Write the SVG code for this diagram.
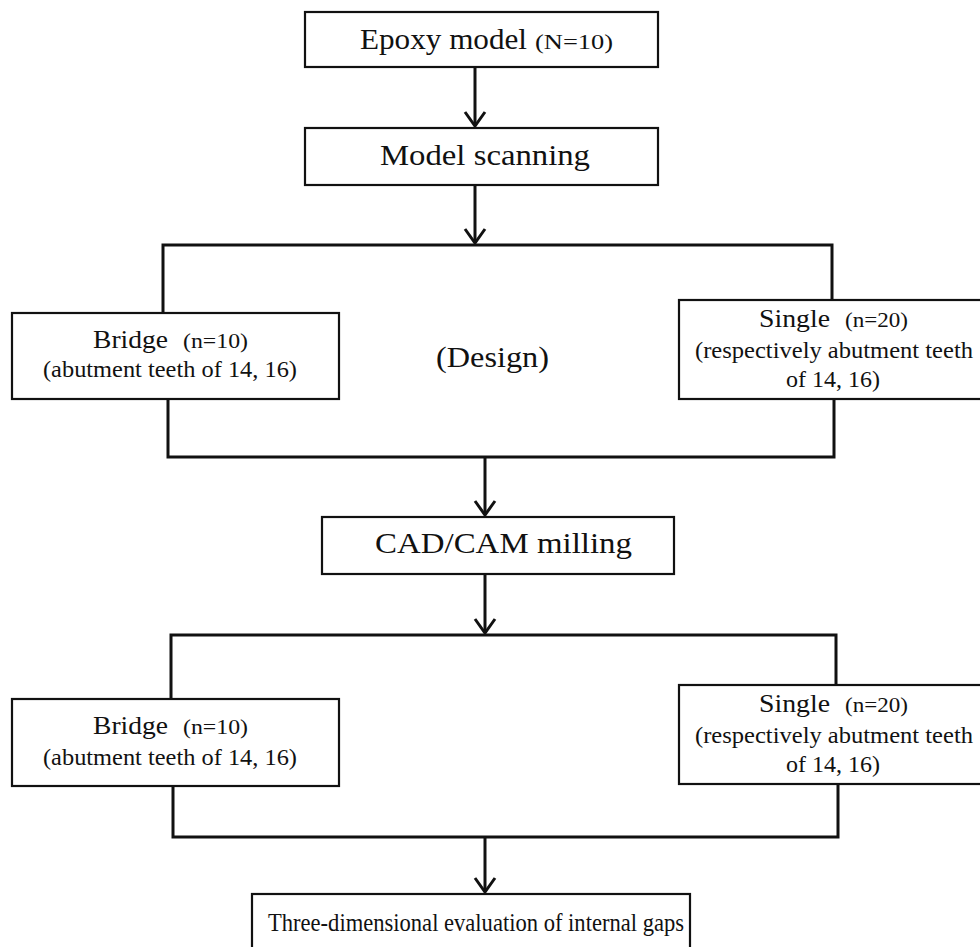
<svg xmlns="http://www.w3.org/2000/svg" width="980" height="947" viewBox="0 0 980 947" font-family="'Liberation Serif', 'Times New Roman', Times, serif">
<style>
.box{fill:#fff;stroke:#111;stroke-width:2.2}
.con{fill:none;stroke:#111;stroke-width:3}
.arr{fill:none;stroke:#111;stroke-width:3;marker-end:url(#chev)}
text{font-family:'Liberation Serif','Times New Roman',Times,serif;fill:#111}
.big{font-size:29px}
.mid{font-size:26px}
.sm{font-size:21px}
.sub{font-size:23px}
</style>
<defs>
<marker id="chev" markerUnits="userSpaceOnUse" viewBox="0 0 18 24" refX="16" refY="12" markerWidth="18" markerHeight="24" orient="auto">
<path d="M2,2 L16,12 L2,22" fill="none" stroke="#111" stroke-width="3"/>
</marker>
</defs>
<rect width="980" height="947" fill="#fff"/>
<g id="connectors">
<line class="arr" x1="475" y1="67" x2="475" y2="126"/>
<line class="arr" x1="475" y1="185" x2="475" y2="243"/>
<polyline class="con" points="163,313 163,245 832,245 832,300"/>
<polyline class="con" points="168,399 168,457 834,457 834,399"/>
<line class="arr" x1="485" y1="457" x2="485" y2="515"/>
<line class="arr" x1="485" y1="574" x2="485" y2="633"/>
<polyline class="con" points="171,699 171,635 836,635 836,685"/>
<polyline class="con" points="173,786 173,837 838,837 838,784"/>
<line class="arr" x1="485" y1="837" x2="485" y2="892"/>
</g>
<g id="epoxy">
<rect class="box" x="305" y="12" width="353" height="55"/>
<text class="big" x="360" y="49" textLength="167" lengthAdjust="spacingAndGlyphs">Epoxy model</text>
<text x="535" y="49" font-size="20" textLength="78" lengthAdjust="spacingAndGlyphs">(N=10)</text>
</g>
<g id="scanning">
<rect class="box" x="305" y="128" width="353" height="57"/>
<text class="big" x="380" y="165" textLength="210" lengthAdjust="spacingAndGlyphs">Model scanning</text>
</g>
<g id="bridge1">
<rect class="box" x="12" y="313" width="327" height="86"/>
<text class="mid" x="93" y="348" textLength="75" lengthAdjust="spacingAndGlyphs">Bridge</text>
<text class="sm" x="183" y="348" textLength="65" lengthAdjust="spacingAndGlyphs">(n=10)</text>
<text class="sub" x="43" y="377" textLength="254" lengthAdjust="spacingAndGlyphs">(abutment teeth of 14, 16)</text>
</g>
<g id="design">
<text class="big" x="436" y="367" textLength="113" lengthAdjust="spacingAndGlyphs">(Design)</text>
</g>
<g id="single1">
<rect class="box" x="679" y="300" width="312" height="99"/>
<text class="mid" x="759" y="327" textLength="71" lengthAdjust="spacingAndGlyphs">Single</text>
<text class="sm" x="845" y="327" textLength="63" lengthAdjust="spacingAndGlyphs">(n=20)</text>
<text class="sub" x="695" y="358" textLength="278" lengthAdjust="spacingAndGlyphs">(respectively abutment teeth</text>
<text class="sub" x="786" y="387" textLength="94" lengthAdjust="spacingAndGlyphs">of 14, 16)</text>
</g>
<g id="cadcam">
<rect class="box" x="322" y="517" width="352" height="57"/>
<text class="big" x="375" y="553" textLength="257" lengthAdjust="spacingAndGlyphs">CAD/CAM milling</text>
</g>
<g id="bridge2">
<rect class="box" x="12" y="699" width="327" height="87"/>
<text class="mid" x="93" y="734" textLength="75" lengthAdjust="spacingAndGlyphs">Bridge</text>
<text class="sm" x="183" y="734" textLength="65" lengthAdjust="spacingAndGlyphs">(n=10)</text>
<text class="sub" x="43" y="765" textLength="254" lengthAdjust="spacingAndGlyphs">(abutment teeth of 14, 16)</text>
</g>
<g id="single2">
<rect class="box" x="679" y="685" width="312" height="99"/>
<text class="mid" x="759" y="712" textLength="71" lengthAdjust="spacingAndGlyphs">Single</text>
<text class="sm" x="845" y="712" textLength="63" lengthAdjust="spacingAndGlyphs">(n=20)</text>
<text class="sub" x="695" y="743" textLength="278" lengthAdjust="spacingAndGlyphs">(respectively abutment teeth</text>
<text class="sub" x="786" y="772" textLength="94" lengthAdjust="spacingAndGlyphs">of 14, 16)</text>
</g>
<g id="evaluation">
<rect class="box" x="252" y="894" width="438" height="70"/>
<text x="268" y="931" font-size="25" textLength="416" lengthAdjust="spacingAndGlyphs">Three-dimensional evaluation of internal gaps</text>
</g>
</svg>
